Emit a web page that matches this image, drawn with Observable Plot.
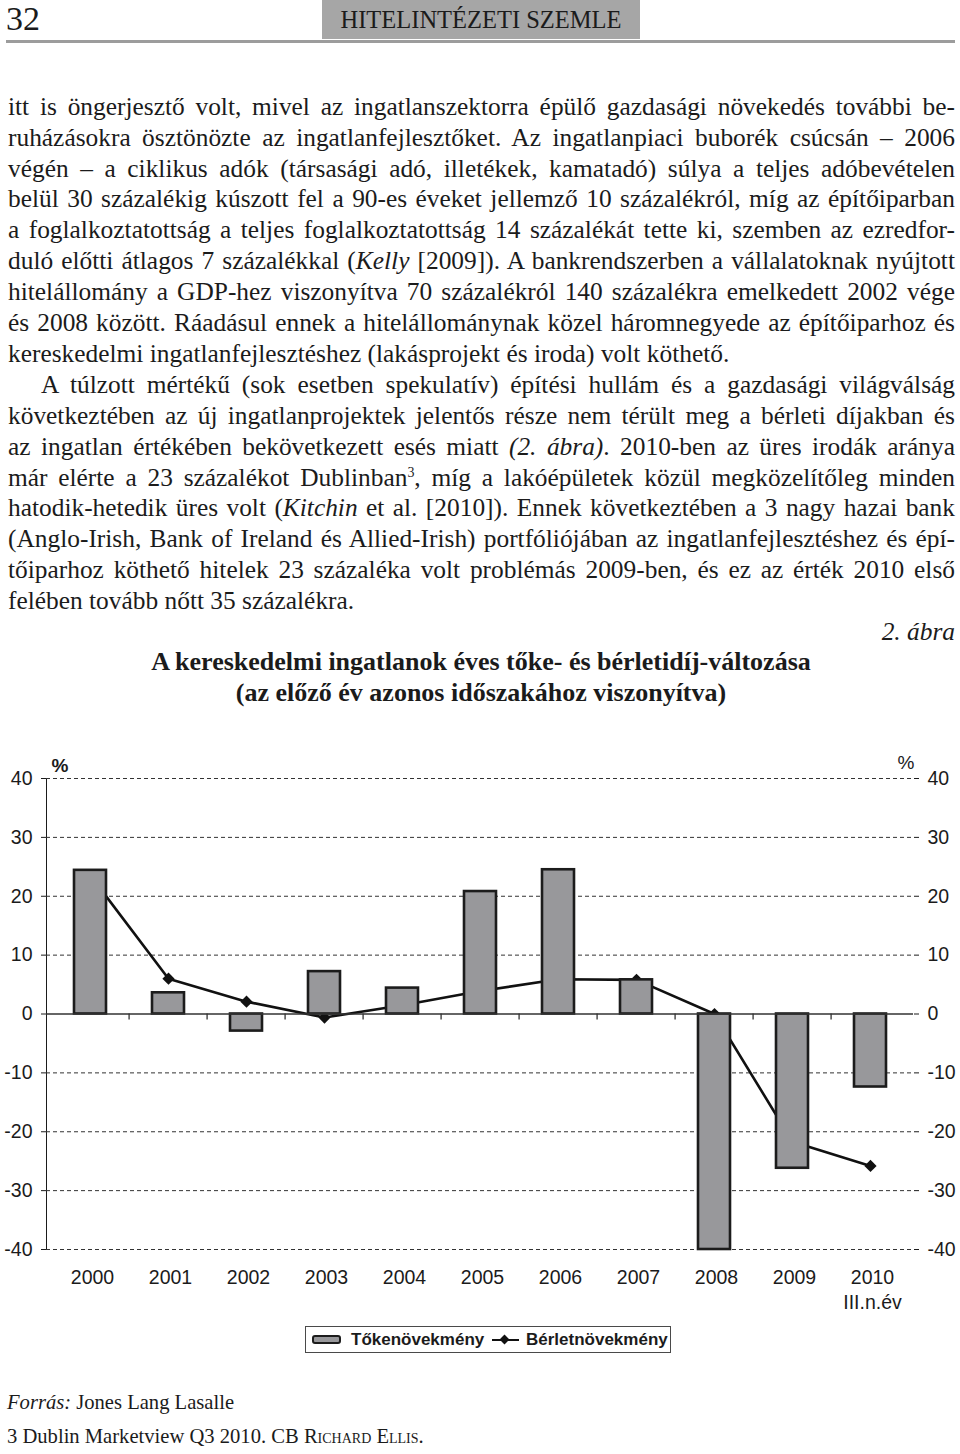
<!DOCTYPE html>
<html>
<head>
<meta charset="utf-8">
<script src="https://cdn.jsdelivr.net/npm/d3@7"></script>
<script src="https://cdn.jsdelivr.net/npm/@observablehq/plot@0.6"></script>
<style>
  html, body { margin: 0; padding: 0; background: #fff; }
  #page { position: relative; width: 960px; height: 1454px; overflow: hidden;
          font-family: "Liberation Serif", "Times New Roman", serif; color: #1b1b1b; }
  .t { position: absolute; white-space: pre; }
  #chart { position: absolute; left: 0; top: 740px; }
  #legend { position: absolute; left: 305px; top: 1326px; width: 364px; height: 25px;
            border: 1.5px solid #4a4a4a; font-family: "Liberation Sans", Arial, sans-serif;
            font-weight: bold; font-size: 17px; color: #1b1b1b; }
  #legend .lab { position: absolute; top: 0; line-height: 26px; white-space: pre; }
  #legend .sw1 { position: absolute; left: 6px; top: 7.5px; width: 25px; height: 5px;
                 background: #98989b; border: 2.6px solid #1c1c1c; border-radius: 3px; }
  #legend .sw2 { position: absolute; left: 186px; top: 11.5px; width: 27px; height: 2.6px; background: #111; }
  #legend .sw2d { position: absolute; left: 195px; top: 8.8px; width: 7px; height: 7px;
                  background: #111; transform: rotate(45deg); }
</style>
</head>
<body>
<div id="page">
  <div class="t" style="left:322px;top:0;width:318px;height:39px;background:#a6a6a6;"></div>
  <div class="t" style="left:6px;top:39.5px;width:949px;height:3px;background:#9c9c9c;"></div>
  <div id="chart"></div>
  <div id="legend">
    <span class="sw1"></span>
    <span class="lab" style="left:45px;">Tőkenövekmény</span>
    <span class="sw2"></span><span class="sw2d"></span>
    <span class="lab" style="left:220px;">Bérletnövekmény</span>
  </div>
</div>
<script>
// ---------------- chart data ----------------
const years = ["2000", "2001", "2002", "2003", "2004", "2005", "2006", "2007", "2008", "2009", "2010"];
const xLabels = ["2000", "2001", "2002", "2003", "2004", "2005", "2006", "2007", "2008", "2009", "2010\nIII.n.év"];
const tokeValues = [24.4, 3.6, -2.9, 7.2, 4.4, 20.8, 24.5, 5.8, -40, -26.2, -12.4];     // Tőkenövekmény
const berletValues = [23.5, 6.0, 2.1, -0.6, 1.5, 3.9, 5.9, 5.8, 0.0, -21.7, -25.8];    // Bérletnövekmény
const yTicks = [-40, -30, -20, -10, 0, 10, 20, 30, 40];
const gridTicks = [-40, -30, -20, -10, 10, 20, 30, 40];
const seriesNames = ["Tőkenövekmény", "Bérletnövekmény"];

// ---------------- page text ----------------
const bodyLines = [
  ["itt is öngerjesztő volt, mivel az ingatlanszektorra épülő gazdasági növekedés további be-", 1, 0],
  ["ruházásokra ösztönözte az ingatlanfejlesztőket. Az ingatlanpiaci buborék csúcsán – 2006", 1, 0],
  ["végén – a ciklikus adók (társasági adó, illetékek, kamatadó) súlya a teljes adóbevételen", 1, 0],
  ["belül 30 százalékig kúszott fel a 90-es éveket jellemző 10 százalékról, míg az építőiparban", 1, 0],
  ["a foglalkoztatottság a teljes foglalkoztatottság 14 százalékát tette ki, szemben az ezredfor-", 1, 0],
  ["duló előtti átlagos 7 százalékkal (<i>Kelly</i> [2009]). A bankrendszerben a vállalatoknak nyújtott", 1, 0],
  ["hitelállomány a GDP-hez viszonyítva 70 százalékról 140 százalékra emelkedett 2002 vége", 1, 0],
  ["és 2008 között. Ráadásul ennek a hitelállománynak közel háromnegyede az építőiparhoz és", 1, 0],
  ["kereskedelmi ingatlanfejlesztéshez (lakásprojekt és iroda) volt köthető.", 0, 0],
  ["A túlzott mértékű (sok esetben spekulatív) építési hullám és a gazdasági világválság", 1, 1],
  ["következtében az új ingatlanprojektek jelentős része nem térült meg a bérleti díjakban és", 1, 0],
  ["az ingatlan értékében bekövetkezett esés miatt <i>(2. ábra)</i>. 2010-ben az üres irodák aránya", 1, 0],
  ["már elérte a 23 százalékot Dublinban<sup style=\"font-size:0.55em;line-height:0;\">3</sup>, míg a lakóépületek közül megközelítőleg minden", 1, 0],
  ["hatodik-hetedik üres volt (<i>Kitchin</i> et al. [2010]). Ennek következtében a 3 nagy hazai bank", 1, 0],
  ["(Anglo-Irish, Bank of Ireland és Allied-Irish) portfóliójában az ingatlanfejlesztéshez és épí-", 1, 0],
  ["tőiparhoz köthető hitelek 23 százaléka volt problémás 2009-ben, és ez az érték 2010 első", 1, 0],
  ["felében tovább nőtt 35 százalékra.", 0, 0]
];

const page = document.getElementById("page");
function addText(html, opts) {
  const F = opts.size;
  const d = document.createElement("div");
  d.className = "t";
  d.style.fontSize = F + "px";
  d.style.lineHeight = F + "px";
  if (opts.weight) d.style.fontWeight = opts.weight;
  if (opts.italic) d.style.fontStyle = "italic";
  if (opts.family) d.style.fontFamily = opts.family;
  d.innerHTML = html;
  page.appendChild(d);
  const w = d.getBoundingClientRect().width;
  let left = opts.left;
  if (opts.align === "center") left = opts.center - w / 2;
  if (opts.align === "right") left = opts.right - w;
  d.style.left = left + "px";
  d.style.top = (opts.baseline - 0.8375 * F) + "px";
  if (opts.justify) {
    const n = (d.textContent.match(/ /g) || []).length;
    if (n > 0) d.style.wordSpacing = ((opts.width - w) / n) + "px";
  }
  return d;
}

// header
addText("32", {size: 34, left: 6, baseline: 30});
addText("HITELINTÉZETI SZEMLE", {size: 24.5, align: "center", center: 481, baseline: 29});

// body
const BF = 25.4, B0 = 115, LH = 30.9;
bodyLines.forEach(([html, just, indent], i) => {
  const left = indent ? 41 : 8;
  addText(html, {size: BF, left, baseline: B0 + LH * i, justify: !!just, width: 955 - left});
});
addText("2. ábra", {size: BF, italic: true, align: "right", right: 955, baseline: B0 + LH * 17});
addText("A kereskedelmi ingatlanok éves tőke- és bérletidíj-változása", {size: 26, weight: "bold", align: "center", center: 481, baseline: B0 + LH * 18});
addText("(az előző év azonos időszakához viszonyítva)", {size: 26, weight: "bold", align: "center", center: 481, baseline: B0 + LH * 19});

// source + footnote
addText("<i>Forrás:</i> Jones Lang Lasalle", {size: 20.6, left: 7, baseline: 1409});
addText("3 Dublin Marketview Q3 2010. CB <span style=\"font-variant:small-caps;\">Richard Ellis</span>.", {size: 20.6, left: 7, baseline: 1443});

// ---------------- chart ----------------
const table = years.map((year, i) => ({year, toke: tokeValues[i], berlet: berletValues[i], label: xLabels[i]}));
const layout = {width: 960, height: 580, marginLeft: 46, marginRight: 47, marginTop: 38, marginBottom: 71};
const step = (layout.width - layout.marginLeft - layout.marginRight) / years.length;

const plot = Plot.plot({
  ...layout,
  style: {fontFamily: "'Liberation Sans', Arial, sans-serif", fontSize: "19.5px", color: "#1b1b1b", background: "transparent", overflow: "visible"},
  x: {domain: years, paddingInner: 0.59, paddingOuter: 0.295, align: 0.5, axis: null},
  y: {domain: [-40, 40], ticks: yTicks, axis: "both", tickSize: 5, tickPadding: 9, tickFormat: d => String(d), line: true, label: null},
  marks: [
    Plot.ruleY(gridTicks, {stroke: "#333", strokeDasharray: "4,3", strokeWidth: 1}),
    Plot.ruleX(years.slice(1), {x: d => d, y1: 0, y2: -1, dx: -step / 2, stroke: "#333", strokeWidth: 1.3}),
    Plot.line(table, {x: "year", y: "berlet", stroke: "#111", strokeWidth: 2.6}),
    Plot.dot(table, {x: "year", y: "berlet", symbol: "diamond2", r: 5.5, fill: "#111", stroke: "none"}),
    Plot.barY(table, {x: "year", y1: 0, y2: "toke", fill: "#98989b", stroke: "#1c1c1c", strokeWidth: 2.6}),
    Plot.ruleY([0], {stroke: "#333", strokeWidth: 1.3}),
    Plot.text(table, {x: "year", y: -40, text: "label", dy: 17, dx: 2, lineAnchor: "top", lineHeight: 1.28, fontSize: 19.5}),
    Plot.text(["%"], {frameAnchor: "top-left", dx: 5, dy: -7, textAnchor: "start", lineAnchor: "bottom", fontWeight: "bold", fontSize: 19}),
    Plot.text(["%"], {frameAnchor: "top-right", dx: 1, dy: -10, textAnchor: "end", lineAnchor: "bottom", fontSize: 19})
  ]
});
document.getElementById("chart").appendChild(plot);
</script>
</body>
</html>
